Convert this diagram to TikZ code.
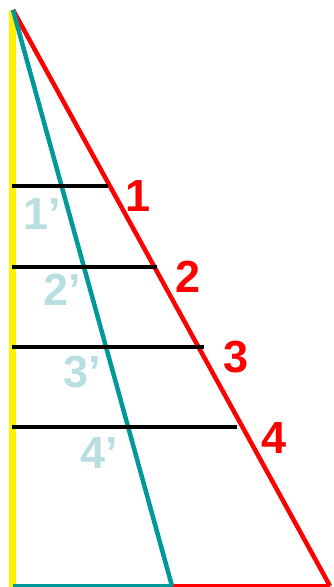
\documentclass[tikz,border=0pt]{standalone}
\usepackage{fontspec}
\setmainfont{Liberation Sans}
\definecolor{teal}{RGB}{0,153,153}
\definecolor{paleblue}{RGB}{185,222,226}
\tikzset{
  num/.style={text=red,font=\fontsize{45}{45}\selectfont\bfseries,inner sep=0pt},
  numprime/.style={text=paleblue,font=\fontsize{45}{45}\selectfont\bfseries,inner sep=0pt}
}

\begin{document}
\begin{tikzpicture}[x=1pt,y=1pt]
  \useasboundingbox (0,0) rectangle (333,587);
  \coordinate (A) at (13,577);
  \coordinate (Y) at (12.5,0);
  \coordinate (B) at (13,1);
  \coordinate (T) at (172,1);
  \coordinate (R) at (330,1);
  \draw[yellow,line width=7pt] (12.5,577)--(Y);
  \draw[red,line width=4.5pt] (A)--(R);
  \draw[red,line width=4.5pt] (T)--(R);
  \draw[teal,line width=4.5pt] (A)--(T);
  \draw[teal,line width=4.5pt] (B)--(T);
  \coordinate (L1) at (12,401); \coordinate (E1) at (108,401);
  \coordinate (L2) at (12,320); \coordinate (E2) at (157,320);
  \coordinate (L3) at (12,240); \coordinate (E3) at (204,240);
  \coordinate (L4) at (12,160); \coordinate (E4) at (237,160);
  \draw[line width=3.5pt] (L1)--(E1);
  \draw[line width=3.5pt] (L2)--(E2);
  \draw[line width=3.5pt] (L3)--(E3);
  \draw[line width=3.5pt] (L4)--(E4);
  \node[num] (n1) at (138,391){1};
  \node[num] (n2) at (188,310){2};
  \node[num] (n3) at (236,230){3};
  \node[num] (n4) at (274,149){4};
  \node[numprime] (p1) at (42,373){1’};
  \node[numprime] (p2) at (62,297){2’};
  \node[numprime] (p3) at (82,215){3’};
  \node[numprime] (p4) at (99,134){4’};
\end{tikzpicture}
\end{document}
